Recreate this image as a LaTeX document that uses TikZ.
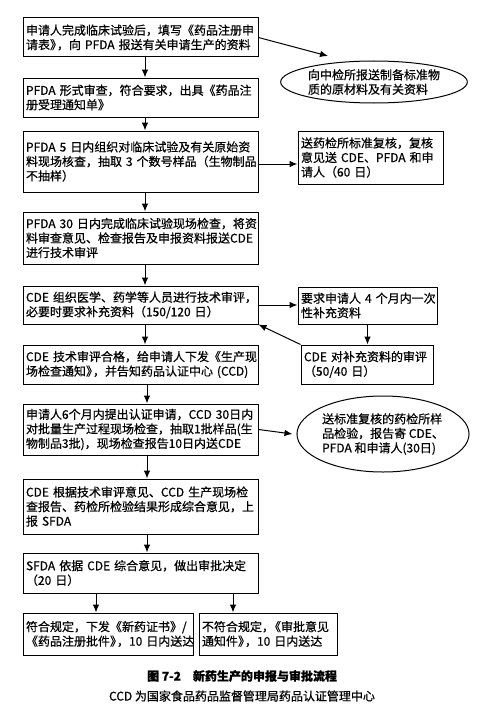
\documentclass[tikz,border=0pt]{standalone}
\usepackage{fontspec}
\setmainfont{Noto Sans CJK SC}[FakeBold=0.6]
\usetikzlibrary{arrows.meta,shapes.geometric}
\newcommand\pkn{\kern-5pt}
\begin{document}
\begin{tikzpicture}[x=1pt,y=-1pt,
  box/.style={draw,line width=1pt,inner sep=3pt,align=left,font=\fontsize{12}{14.5}\selectfont},
  mainbox/.style={box,minimum width=235pt,text width=229pt},
  ell/.style={draw,line width=1pt,ellipse,inner sep=0pt,align=left,font=\fontsize{12}{14.5}\selectfont},
  arr/.style={line width=1pt,-{Latex[length=8pt,width=6.5pt]}},
  captext/.style={font=\fontsize{12}{14}\selectfont}]
\useasboundingbox[fill=white] (0,0) rectangle (478,717);
% main column
\node[mainbox,minimum height=39pt] (b1) at (140.5,37.5)
  {申请人完成临床试验后，填写《药品注册申\\请表》\pkn，向~PFDA~报送有关申请生产的资料};
\node[mainbox,minimum height=39pt] (b2) at (140.5,97.5)
  {PFDA~形式审查，符合要求，出具《药品注\\册受理通知单》};
\node[mainbox,minimum height=61pt] (b3) at (140.5,161.5)
  {PFDA~5~日内组织对临床试验及有关原始资\\料现场核查，抽取~3~个数号样品（生物制品\\不抽样）};
\node[mainbox,minimum height=52pt] (b4) at (140.5,238)
  {PFDA~30~日内完成临床试验现场检查，将资\\料审查意见、检查报告及申报资料报送CDE\\进行技术审评};
\node[mainbox,minimum height=38pt] (b5) at (140.5,305)
  {CDE~组织医学、药学等人员进行技术审评，\\必要时要求补充资料（150/120~日）};
\node[mainbox,minimum height=39pt] (b6) at (140.5,364.5)
  {CDE~技术审评合格，给申请人下发《生产现\\场检查通知》\pkn，并告知药品认证中心~(CCD)};
\node[mainbox,minimum height=51pt] (b7) at (140.5,429.5)
  {申请人6个月内提出认证申请，CCD~30日内\\对批量生产过程现场检查，抽取1批样品(生\\物制品3批)，现场检查报告10日内送CDE};
\node[mainbox,minimum height=55pt] (b8) at (140.5,506.5)
  {CDE~根据技术审评意见、CCD~生产现场检\\查报告、药检所检验结果形成综合意见，上\\报~SFDA};
\node[mainbox,minimum height=40pt] (b9) at (140.5,573)
  {SFDA~依据~CDE~综合意见，做出审批决定\\（20~日）};
\node[box,minimum width=170pt,minimum height=42pt,text width=164pt] (b10a) at (108,634)
  {符合规定，下发《新药证书》/\\《药品注册批件》\pkn，10~日内送达};
\node[box,minimum width=138pt,minimum height=42pt,text width=132pt] (b10b) at (268,634)
  {不符合规定，\pkn《审批意见\\通知件》\pkn，10~日内送达};
% right column
\node[ell,minimum width=172pt,minimum height=42pt] (e1) at (374,82)
  {向中检所报送制备标准物\\质的原材料及有关资料};
\node[box,minimum width=145pt,minimum height=53pt,text width=139pt] (r3) at (370.5,157.5)
  {送药检所标准复核，复核\\意见送~CDE、PFDA~和申\\请人（60~日）};
\node[box,minimum width=139pt,minimum height=37pt,text width=133pt] (r5) at (367.5,305.5)
  {要求申请人~4~个月内一次\\性补充资料};
\node[box,minimum width=132pt,minimum height=39pt,text width=126pt] (r6) at (367,364.5)
  {CDE~对补充资料的审评\\（50/40~日）};
\node[ell,minimum width=164pt,minimum height=76pt] (e2) at (383,434)
  {送标准复核的药检所样\\品检验，报告寄~CDE、\\PFDA~和申请人(30日)};
% captions
\node[captext,font=\fontsize{12}{14}\selectfont\bfseries] (c1) at (242,676) {图~7-2\quad 新药生产的申报与审批流程};
\node[captext] (c2) at (242,696) {CCD~为国家食品药品监督管理局药品认证管理中心};
% helper coordinates
\coordinate (ax) at (145,0);
\coordinate (bx) at (147,0);
\coordinate (lx) at (96,0);
\coordinate (rx) at (233,0);
\coordinate (e1t) at (328,56);
% connectors
\draw[arr] (b1.south -| ax) -- (b2.north -| ax);
\draw[arr] (b2.south -| ax) -- (b3.north -| ax);
\draw[arr] (b3.south -| ax) -- (b4.north -| ax);
\draw[arr] (b4.south -| ax) -- (b5.north -| ax);
\draw[arr] (b5.south -| ax) -- (b6.north -| ax);
\draw[arr] (b6.south -| bx) -- (b7.north -| bx);
\draw[arr] (b7.south -| bx) -- (b8.north -| bx);
\draw[arr] (b8.south -| bx) -- (b9.north -| bx);
\draw[arr] (b9.south -| lx) -- (b10a.north -| lx);
\draw[arr] (b9.south -| rx) -- (b10b.north -| rx);
\draw[arr] (b1.east) -- (e1t);
\draw[arr] ([yshift=-2.5pt]b3.east) -- ([yshift=-2.5pt]b3.east -| r3.west);
\draw[arr] (b5.east) -- (b5.east -| r5.west);
\draw[arr] (r5.south) -- (r5.south |- r6.north);
\draw[arr] (r6.north west) -- (b5.south east);
\draw[arr] (b7.east) -- ([xshift=-4pt]e2.west);
\end{tikzpicture}
\end{document}
